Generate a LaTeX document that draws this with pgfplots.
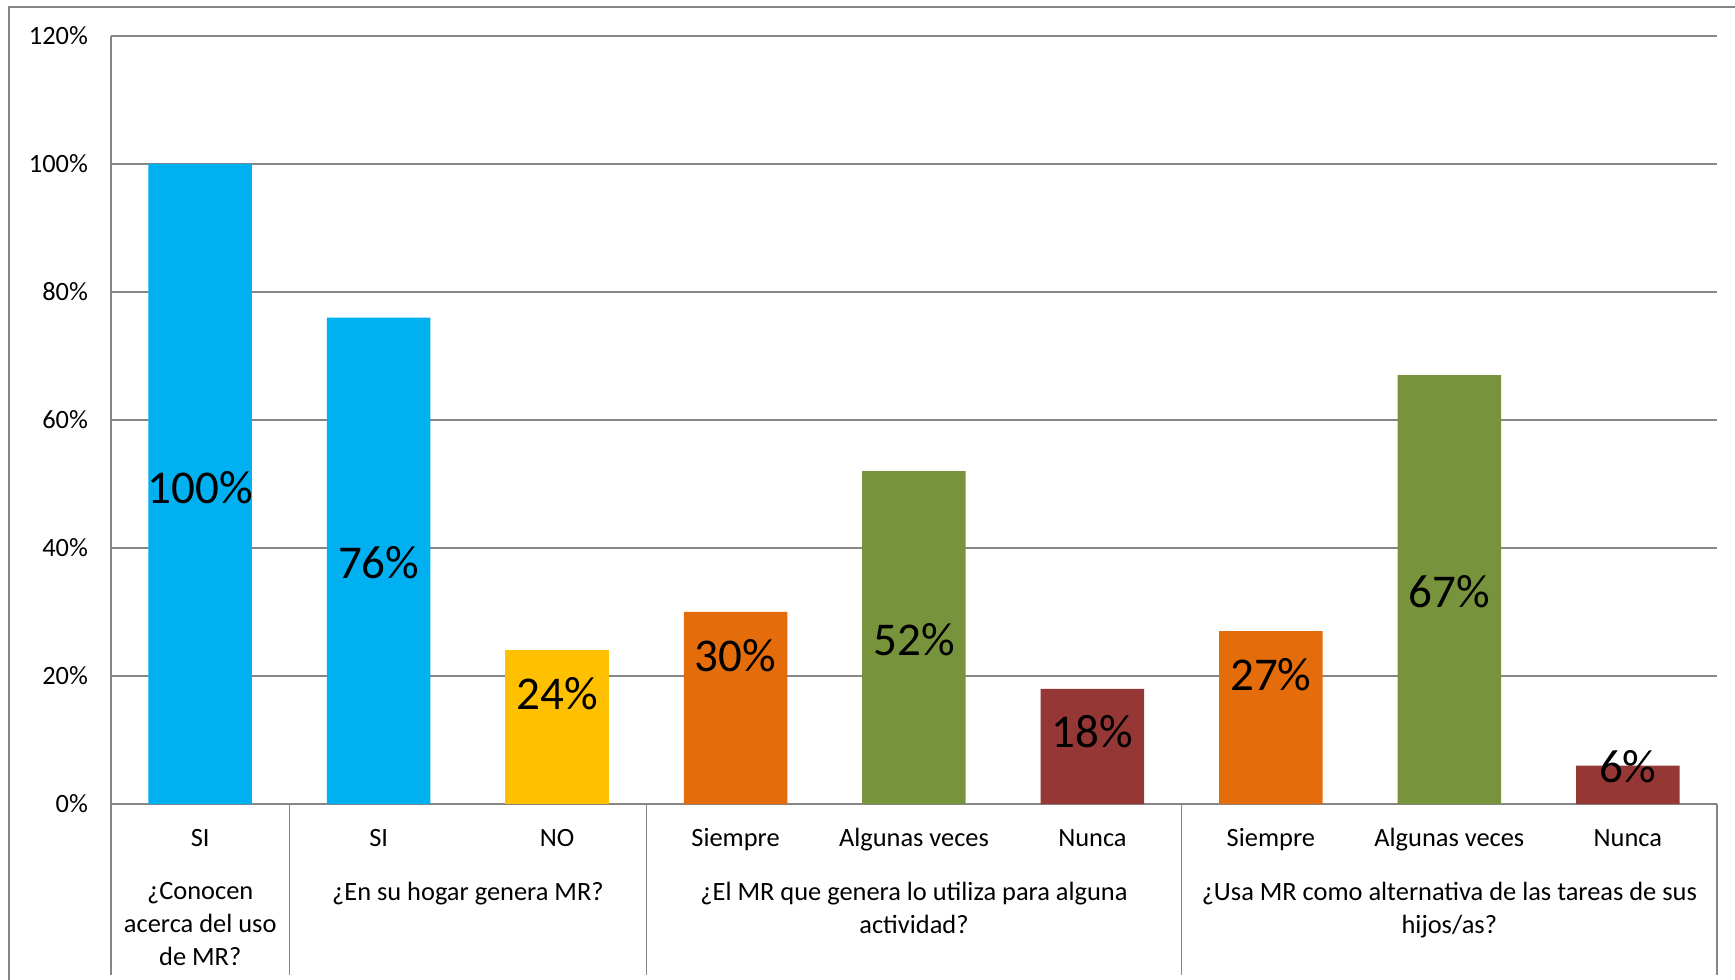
\documentclass[border=0pt]{standalone}
\usepackage{pgfplots}
\pgfplotsset{compat=1.18}
\usepackage{fontspec}
\setmainfont{Carlito}
\definecolor{cblue}{RGB}{0,176,240}
\definecolor{cyellow}{RGB}{255,192,0}
\definecolor{corange}{RGB}{228,108,10}
\definecolor{cgreen}{RGB}{119,147,60}
\definecolor{cred}{RGB}{149,55,53}
\definecolor{gridgray}{RGB}{134,134,134}
\begin{document}
\begin{tikzpicture}
\useasboundingbox (0,0) rectangle (867.5bp,490bp);
\draw[color=gridgray, line width=1bp] (4.5bp,-5bp) -- (4.5bp,486.5bp) -- (875bp,486.5bp);
\begin{axis}[
  at={(55.5bp,88bp)}, anchor=south west,
  scale only axis, width=803bp, height=384bp,
  xmin=-0.5, xmax=8.5, ymin=0, ymax=120,
  axis lines=left, axis line style={-, draw=gridgray, line width=0.75bp},
  ytick={0,20,...,120}, yticklabels={0\%,20\%,40\%,60\%,80\%,100\%,120\%},
  xtick={0,...,8},
  xticklabels={SI,SI,NO,Siempre,Algunas veces,Nunca,Siempre,Algunas veces,Nunca},
  major tick length=0pt,
  ymajorgrids, grid style={gridgray, line width=0.75bp},
  tick label style={font=\fontsize{13.2bp}{16bp}\selectfont},
  yticklabel style={xshift=-8bp},
  xticklabel style={yshift=-11bp, text height=0.7em, text depth=0.22em},
  clip=false,
]
\addplot[ybar, bar width=0.58, bar shift=0pt, fill=cblue, draw=none] coordinates {(0,100) (1,76)};
\addplot[ybar, bar width=0.58, bar shift=0pt, fill=cyellow, draw=none] coordinates {(2,24)};
\addplot[ybar, bar width=0.58, bar shift=0pt, fill=corange, draw=none] coordinates {(3,30) (6,27)};
\addplot[ybar, bar width=0.58, bar shift=0pt, fill=cgreen, draw=none] coordinates {(4,52) (7,67)};
\addplot[ybar, bar width=0.58, bar shift=0pt, fill=cred, draw=none] coordinates {(5,18) (8,6)};
\addplot[draw=none, mark=none, nodes near coords, point meta=explicit symbolic,
  nodes near coords style={anchor=center, inner sep=0pt, text=black, font=\fontsize{23.5bp}{28bp}\selectfont}]
  table[meta=label] {
x y label
0 49.5 100\%
1 37.7 76\%
2 17.2 24\%
3 23.1 30\%
4 25.6 52\%
5 11.3 18\%
6 20.2 27\%
7 33.1 67\%
8 5.9 6\%
};
\foreach \xx in {-0.5,0.5,2.5,5.5,8.5}{
  \edef\tmp{\noexpand\draw[gridgray, line width=0.75bp] (axis cs:\xx,0) -- ++(0pt,-85.5bp);}
  \tmp
}
\tikzset{grp/.style={anchor=north, align=center, inner sep=0pt, font=\fontsize{13.2bp}{16.6bp}\selectfont, yshift=-39bp}}
\node[grp] at (axis cs:0,0) {¿Conocen\\acerca del uso\\de MR?};
\node[grp] at (axis cs:1.5,0) {¿En su hogar genera MR?};
\node[grp] at (axis cs:4,0) {¿El MR que genera lo utiliza para alguna\\actividad?};
\node[grp] at (axis cs:7,0) {¿Usa MR como alternativa de las tareas de sus\\hijos/as?};
\end{axis}
\end{tikzpicture}
\end{document}
